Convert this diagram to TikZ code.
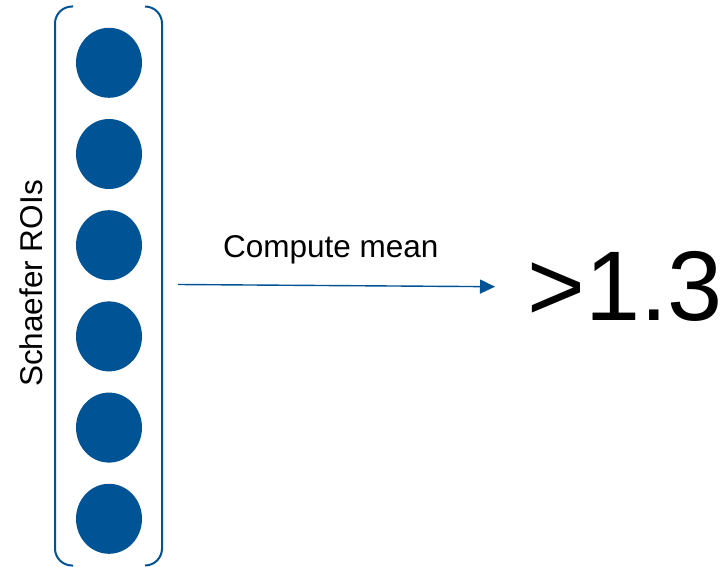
\documentclass[tikz,border=0pt]{standalone}
\usepackage{fontspec}
\setmainfont{Liberation Sans}
\usetikzlibrary{arrows.meta,shapes.geometric}
\definecolor{roiblue}{RGB}{0,83,148}

\begin{document}
\begin{tikzpicture}[x=1pt,y=-1pt,
    roi/.style={ellipse,fill=roiblue,minimum width=66pt,minimum height=70pt,inner sep=0pt},
    brk/.style={draw=roiblue,line width=2pt,rounded corners=17pt},
    arr/.style={draw=roiblue,line width=1.4pt,-{Triangle[length=15pt,width=14pt]}}]
    \useasboundingbox (0,0) rectangle (723,567);
    % brackets
    \draw[brk] (73,6.5) -| (55,565.5) -- (73,565.5);
    \draw[brk] (145,6.5) -| (162,565.5) -- (145,565.5);
    % regions
    \foreach \i in {0,...,5}
        \node[roi] (roi\i) at (109,62.8+91.2*\i) {};
    \node[rotate=90,anchor=base,inner sep=0pt,font=\fontsize{31.5}{36}\selectfont] (rois) at (42,283.5) {Schaefer ROIs};
    % mean
    \coordinate (from) at (178,284.5);
    \coordinate (to) at (495,286.7);
    \draw[arr] (from) -- (to);
    \node[anchor=base west,inner sep=0pt,font=\fontsize{31.5}{36}\selectfont] (lbl) at (223,257) {Compute mean};
    \node[anchor=base west,inner sep=0pt,font=\fontsize{99}{110}\selectfont] (val) at (527,320) {>1.3};
\end{tikzpicture}
\end{document}
